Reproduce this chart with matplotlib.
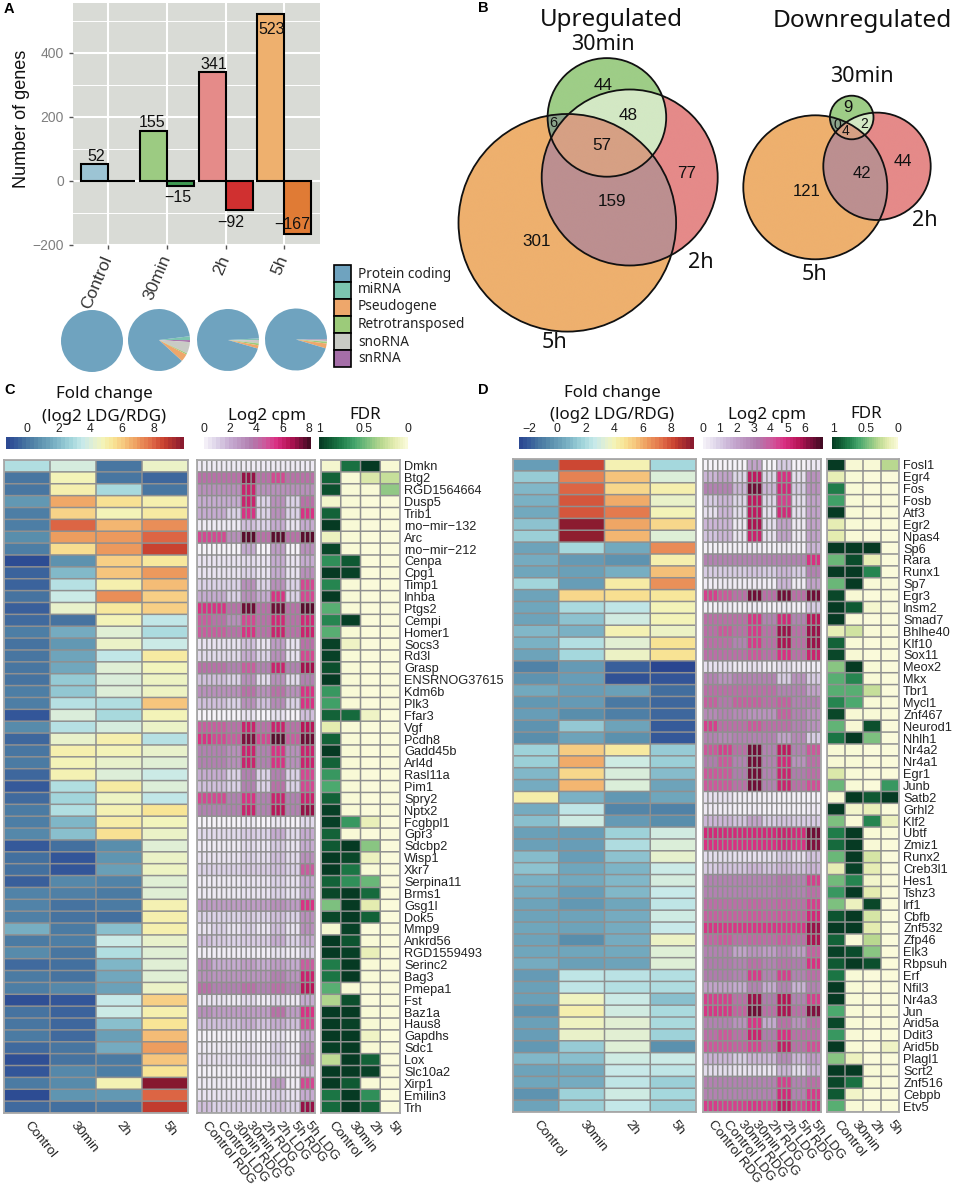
import numpy as np
import matplotlib
matplotlib.use('Agg')
import matplotlib.pyplot as plt
from matplotlib.colors import LinearSegmentedColormap, Normalize
from matplotlib.patches import Circle, Rectangle
from matplotlib.transforms import ScaledTranslation

W, H = 954, 1190
SANS = 'Liberation Sans'
TITLE = 'Noto Sans'
plt.rcParams['font.family'] = [SANS, 'DejaVu Sans']

# Panel A
times = ['Control', '30min', '2h', '5h']
genes_up = [52, 155, 341, 523]
genes_down = [0, -15, -92, -167]
up_colors = ['#9cc4d4', '#9ccb82', '#e58b89', '#eeb06e']
down_colors = ['#9cc4d4', '#3f9b52', '#d03030', '#e07b35']

biotypes = ['Protein coding', 'miRNA', 'Pseudogene', 'Retrotransposed', 'snoRNA', 'snRNA']
biotype_colors = ['#6fa3bf', '#7cc5b0', '#eea76b', '#9ccb7a', '#c9cbc5', '#a56ea8']
pie_protein = [100, 86, 94.7, 95.1]
pie_mirna = [0, 2, 0.8, 0.3]
pie_pseudo = [0, 4, 1.7, 2.5]
pie_retro = [0, 0.7, 1, 1]
pie_sno = [0, 6, 1.5, 0.5]
pie_sn = [0, 1, 0.3, 0.6]

# Panel B
venn_up = {'30': 44, '30+2': 48, '30+5': 6, 'all': 57, '2': 77, '2+5': 159, '5': 301}
venn_down = {'30': 9, '30+2': 2, '30+5': 0, 'all': 4, '2': 44, '2+5': 42, '5': 121}

# Panel C
genes_c = ['Dmkn', 'Btg2', 'RGD1564664', 'Dusp5', 'Trib1', 'rno\u2212mir\u2212132', 'Arc', 'rno\u2212mir\u2212212',
           'Cenpa', 'Cpg1', 'Timp1', 'Inhba', 'Ptgs2', 'Cempi', 'Homer1', 'Socs3', 'Rd3l', 'Grasp',
           'ENSRNOG37615', 'Kdm6b', 'Plk3', 'Ffar3', 'Vgf', 'Pcdh8', 'Gadd45b', 'Arl4d', 'Rasl11a', 'Pim1',
           'Spry2', 'Nptx2', 'Fcgbpl1', 'Gpr3', 'Sdcbp2', 'Wisp1', 'Xkr7', 'Serpina11', 'Brms1', 'Gsg1l',
           'Dok5', 'Mmp9', 'Ankrd56', 'RGD1559493', 'Serinc2', 'Bag3', 'Pmepa1', 'Fst', 'Baz1a', 'Haus8',
           'Gapdhs', 'Sdc1', 'Lox', 'Slc10a2', 'Xirp1', 'Emilin3', 'Trh']
fc_c = [[3.1, 3.9, 0.0, 4.5], [0.0, 4.8, 0.0, -0.4], [0.0, 5.0, 2.9, 0.0], [1.0, 6.7, 5.5, 5.0],
        [0.2, 5.8, 4.8, 5.2], [0.2, 8.0, 6.4, 7.2], [0.7, 6.9, 7.0, 8.0], [0.2, 5.6, 7.0, 8.6],
        [-1.1, 0.8, 5.9, 5.3], [-0.5, 2.0, 6.1, 7.0], [-0.5, 3.2, 5.0, 6.3], [-0.1, 3.6, 7.2, 5.9],
        [-0.6, 4.4, 5.3, 5.9], [-0.3, -0.1, 4.8, 3.4], [0.2, 1.6, 4.2, 3.0], [-0.1, 1.0, 4.5, 3.6],
        [0.0, 1.4, 3.4, 5.2], [0.0, 1.5, 4.2, 4.7], [-0.1, 2.5, 4.0, 4.6], [0.2, 2.4, 4.1, 4.6],
        [0.2, 3.2, 3.1, 6.1], [-0.8, 4.0, 2.9, 4.8], [0.6, 3.2, 3.9, 4.5], [-0.4, 4.4, 5.0, 3.2],
        [0.0, 5.0, 4.8, 4.4], [0.1, 4.8, 4.4, 4.2], [-0.4, 4.9, 4.1, 3.6], [-0.7, 3.1, 5.2, 4.1],
        [-0.3, 2.8, 4.6, 3.4], [0.1, 3.1, 4.9, 5.4], [0.2, 1.9, 5.1, 4.7], [0.5, 2.2, 5.5, 4.5],
        [-0.7, -0.2, 0.7, 4.2], [-0.2, -0.8, 0.9, 4.5], [-0.2, -0.8, 1.2, 4.6], [-0.6, 0.5, 0.4, 4.2],
        [0.4, 0.3, 0.1, 4.2], [0.4, -0.1, 0.1, 4.9], [0.3, -0.1, -0.2, 5.0], [1.7, 0.1, 2.2, 5.0],
        [0.1, 0.2, 3.6, 4.4], [0.6, 0.0, 3.1, 4.2], [-0.3, -0.2, 1.9, 4.2], [0.1, -0.1, 1.5, 4.2],
        [0.2, 0.5, 1.3, 4.5], [-1.0, -0.8, 3.5, 5.9], [-0.1, -0.5, 3.6, 5.0], [0.0, -0.4, 2.2, 5.4],
        [0.1, -0.3, 1.2, 6.3], [-0.3, 0.0, 1.6, 6.9], [-1.0, -0.1, 0.1, 6.1], [-0.8, 0.5, 0.2, 5.4],
        [0.1, 0.6, 4.9, 9.9], [-1.1, 0.9, 1.0, 8.0], [-0.3, -0.2, 0.0, 8.8]]
# one value per condition, each condition has three replicate cells
cpm_c = [[.3, .3, .3, .3, .3, .3, .3, .3], [4, 4, 4, 7, 4, 5, 4, 4], [3, 3, 3, 6, 3, 3, 3, 3], [2, 2, 2, 6, 1, 3, 1, 4],
         [2, 2, 1, 5.5, 1, 3, 1, 5.5], [.3, .3, .3, 1.5, 1, 2, .5, 2], [5, 5, 3, 7.8, 4, 7.8, 4, 7.8], [0, 0, 0, 2, 0, 2.5, 0, 3],
         [.5, .5, .5, .8, .5, 2, .5, 2], [.5, .5, .5, 1, .5, 2, .5, 3], [1, 1, 1, 3, 1, 3, 1, 5], [2, 2, 1, 3, 2, 5.5, 1, 5],
         [5.5, 5.5, 4, 7.5, 4, 7.5, 4, 7.8], [4.5, 4, 3, 5, 4, 5.8, 4, 5.8], [4.5, 4.5, 4, 5.5, 4, 6, 4, 6], [.5, .5, .5, 1.5, .5, 2.5, .5, 4],
         [.8, .8, .8, 2, 1, 3, .5, 5], [4, 4, 3.5, 4.5, 3.5, 6, 3.5, 6.8], [1.5, 1.5, 1, 3, .8, 3, .8, 3.5], [3, 3, 3, 4, 3, 4, 3, 5.5],
         [1.5, 1.5, 1, 3, 1.5, 3.2, 1, 5.5], [0, 0, 0, .5, 0, .5, 0, 1.5], [4.5, 4.5, 4, 6, 4, 6, 4, 6.5], [5.5, 5, 4.5, 7.3, 5, 7.8, 4.5, 7.5],
         [3.5, 3.5, 3, 6, 3.5, 5.5, 3, 6], [3.5, 3.5, 3, 6, 3.5, 5.5, 3, 6], [2, 2, 1, 3.5, 1, 3.5, 1, 5], [1.5, 1.5, 1, 3.5, 1, 4, 1, 5],
         [5, 5, 3.5, 5.5, 3.5, 6, 3.5, 6], [3.5, 3.5, 3.5, 6, 3.5, 6.5, 3.5, 7], [0, 0, 0, .3, 0, .3, 0, .8], [.8, .8, .8, 1.2, 1, 2, .8, 2],
         [.3, .3, .3, .8, .5, 1.2, .5, 2], [.5, .5, .5, 1, .8, 1.5, .8, 3], [1, 1, 1, 1.2, 1.2, 1.5, 1, 4.5], [.3, .3, .3, .5, .5, 1, .5, 2],
         [.3, .3, .3, .5, .5, 1, .5, 2], [2.5, 2.5, 2.5, 2.5, 2.5, 3, 2.5, 5.5], [1, 1, 1, 1.2, 1, 1.5, 1, 3], [.5, 1, .5, 1, .5, 1.5, .5, 3],
         [1.5, 1.2, 1, 1.2, 1.2, 2, 1, 2], [.2, .2, .2, .3, .2, .5, .2, 1], [3, 2, 2, 2.5, 2, 2.5, 2, 4.5], [3, 2.8, 2.8, 2.8, 2.8, 3.5, 2.8, 6],
         [4, 3.5, 3.5, 4, 3.5, 4, 3.5, 6.5], [.5, .5, .3, .8, .3, .8, .3, 2], [3, 2.5, 2.5, 2.5, 2.5, 4, 2.5, 5.5], [1.5, 1.5, 1.5, 2, 1.5, 2, 1.5, 5],
         [.1, .1, .1, .3, .1, .5, .1, 2], [.3, .3, .3, .5, .3, 1, .3, 3], [.6, .6, .5, .8, .5, 1, .5, 3.5], [.1, .1, .1, .2, .1, .3, .1, 1.5],
         [.3, .3, .2, .5, .2, 2.5, .2, 5], [.5, .5, .5, .8, .5, 1, .5, 2], [1.5, 1, 1, 1, 1, 1.5, 1, 7]]
fdr_c = [[.05, .8, 1, .03], [.85, .02, .18, .25], [.92, .02, .02, .4], [.06, .02, .01, .01], [.85, .02, .01, .01],
         [1, .02, .01, .01], [.1, .02, .01, .01], [.95, .02, .01, .01], [.68, .88, .01, .01], [1, .97, .01, .01],
         [.72, .02, .01, .01], [1, .02, .01, .01], [.55, .02, .01, .01], [.72, .98, .01, .01], [.55, .03, .01, .01],
         [.97, .08, .01, .01], [.97, .02, .01, .01], [.92, .02, .01, .01], [1, .02, .01, .01], [.65, .02, .01, .01],
         [.62, .02, .01, .01], [.85, .82, .08, .01], [.15, .02, .01, .01], [.85, .02, .01, .01], [1, .02, .01, .01],
         [.85, .02, .01, .01], [.65, .02, .01, .01], [.58, .02, .01, .01], [.85, .02, .01, .01], [.98, .02, .01, .01],
         [.98, .65, .12, .01], [.85, .02, .01, .01], [.88, 1, .42, .01], [1, .95, .1, .01], [1, .78, .02, .01],
         [.85, .68, .5, .01], [.95, 1, .82, .01], [.45, 1, .15, .01], [.95, 1, .85, .01], [.04, .97, .01, .01],
         [1, .9, .02, .01], [1, .98, .12, .01], [.75, 1, .02, .01], [.78, 1, .02, .01], [.55, .03, .01, .01],
         [.32, .92, .01, .01], [1, 1, .02, .01], [1, .97, .03, .01], [1, 1, .08, .01], [.98, 1, .03, .01],
         [.28, 1, .85, .01], [1, 1, .97, .01], [1, .88, .02, .01], [.78, 1, .68, .01], [.82, 1, .85, .01]]

# Panel D
genes_d = ['Fosl1', 'Egr4', 'Fos', 'Fosb', 'Atf3', 'Egr2', 'Npas4', 'Sp6', 'Rara', 'Runx1', 'Sp7', 'Egr3', 'Insm2',
           'Smad7', 'Bhlhe40', 'Klf10', 'Sox11', 'Meox2', 'Mkx', 'Tbr1', 'Mycl1', 'Znf467', 'Neurod1', 'Nhlh1',
           'Nr4a2', 'Nr4a1', 'Egr1', 'Junb', 'Satb2', 'Grhl2', 'Klf2', 'Ubtf', 'Zmiz1', 'Runx2', 'Creb3l1', 'Hes1',
           'Tshz3', 'Irf1', 'Cbfb', 'Znf532', 'Zfp46', 'Elk3', 'Rbpsuh', 'Erf', 'Nfil3', 'Nr4a3', 'Jun', 'Arid5a',
           'Ddit3', 'Arid5b', 'Plagl1', 'Scrt2', 'Znf516', 'Cebpb', 'Etv5']
fc_d = [[0.0, 8.1, 4.1, 1.9], [1.5, 6.9, 5.5, 3.2], [0.9, 7.5, 5.0, 4.2], [0.7, 7.8, 6.0, 3.6], [0.4, 7.8, 7.1, 4.0],
        [1.2, 9.5, 6.1, 5.0], [1.6, 9.4, 5.8, 3.3], [0.2, 1.9, 0.4, 6.7], [0.5, -0.1, -0.3, 4.2], [0.3, 0.1, 0.6, 5.6],
        [1.8, 0.0, 4.4, 6.6], [0.2, 5.0, 4.8, 4.6], [0.3, 2.0, 2.4, 4.0], [0.2, 1.2, 2.9, 4.0], [0.9, 0.7, 4.1, 3.7],
        [0.7, 2.2, 3.4, 4.7], [0.2, 1.9, 3.7, 4.7], [-0.9, -0.1, -1.9, -2.7], [-0.3, 0.0, -2.3, -2.2], [0.4, 0.0, 0.1, -1.5],
        [-0.2, -0.1, -1.2, -1.7], [0.0, -0.5, -1.0, -1.7], [-0.3, 1.4, 0.2, -2.0], [-0.5, 0.2, -0.4, -2.1], [1.7, 5.3, 4.5, 1.5],
        [1.6, 6.0, 2.8, 1.6], [0.9, 5.0, 3.1, 1.0], [0.5, 5.8, 3.2, 0.2], [4.3, 0.7, -0.2, 0.3], [0.5, 2.4, -0.8, -0.9],
        [1.1, 2.8, -0.1, -0.5], [0.1, 0.0, 1.7, 2.9], [0.1, 0.0, 2.1, 3.2], [1.0, 0.0, 1.2, 3.5], [1.2, 0.3, 0.8, 2.7],
        [0.7, 0.4, 0.9, 3.0], [0.5, 0.0, 0.9, 2.6], [0.2, -0.2, 0.3, 2.4], [0.2, 0.2, 0.5, 2.8], [0.3, 0.2, 0.5, 2.6],
        [0.2, -0.5, 0.5, 3.7], [0.3, 0.3, 0.4, 3.3], [0.5, 0.1, 0.2, 3.3], [-0.1, 2.4, 2.3, 2.2], [0.1, 2.4, 2.2, 2.1],
        [0.1, 3.8, 2.7, 1.1], [-0.3, 4.2, 2.9, 2.0], [0.1, 3.8, 3.4, 2.0], [0.0, 3.6, 3.4, 1.7], [-0.2, 1.5, 3.3, -0.4],
        [0.9, 1.1, 2.8, 2.7], [0.2, 0.4, 2.6, 2.4], [0.3, 0.5, 2.4, 1.6], [-0.3, 1.7, 2.8, 1.9], [0.2, 1.6, 2.5, 1.6]]
cpm_d = [[0, 0, 0, 2, 0, 1, 0, .3], [1.5, 2, .8, 5.5, .8, 4.8, .5, 2.5], [3, 3, 1.5, 6.5, 1.5, 5, 1, 2.5], [1, 1.5, .8, 5.5, .8, 4.5, .6, 2],
         [.5, 1.5, .6, 5.5, .5, 5, .5, 2], [1.5, 1.5, .3, 5.8, .6, 2, .3, 2], [1.2, 1.5, .4, 5.2, .5, 2, .3, 2], [.1, .1, .1, .2, .1, .2, .1, 1.5],
         [3, 3, 3, 3, 3, 3, 3, 4.8], [1, 1, 1, 1.2, 1, 1.5, 1, 3], [.2, .3, .2, .3, .2, 1.5, .2, 2], [4.5, 4, 3.5, 6.5, 3.5, 6.5, 3.5, 6.5],
         [.1, .2, .1, .2, .1, .2, .1, 1], [3.5, 3.5, 3.5, 4.7, 3, 5, 3, 5.6], [3.5, 4, 3.5, 4.6, 3.5, 6, 3.5, 6], [3.5, 3.5, 3, 4.6, 3.5, 5.8, 3.5, 6],
         [3.5, 3.5, 3.5, 4, 3.5, 4.8, 3.5, 5.2], [.5, .5, .3, .5, .3, .5, .3, .2], [3, 2.5, 3, 3, 3, 1, 2.5, 1], [3.5, 3.5, 3.5, 3.5, 3.5, 3, 3, 2],
         [3.8, 3.3, 3.8, 3.8, 3.5, 3.8, 3, 3], [2.8, 3, 2.8, 2.5, 2.5, 3.8, 3, 2.5], [4.5, 3.5, 3.5, 4, 3.5, 3.5, 3, 2.5], [3, 2.8, 3, 3, 3, 2, 2.8, 1],
         [4, 4.5, 3.5, 6.5, 3, 5.5, 3, 4], [3.2, 4, 3, 6.5, 3, 5, 2.5, 3.5], [4, 4, 3.2, 6.5, 3, 5.2, 3.2, 3.5], [4, 4, 3.5, 6.5, 3, 5.2, 3.5, 4.2],
         [.5, .5, .2, .2, .2, .1, .1, .1], [.3, .2, .1, .2, .1, .1, .1, .3], [1.5, 1.5, 1.2, 2, 1, 1.2, 1, 1], [5, 5, 5, 5, 5, 5.2, 5, 6.5],
         [4.8, 4.8, 4.8, 4.8, 4.8, 5, 4.8, 6.3], [.6, .6, .5, .5, .6, 1, .5, 1.2], [1, 1.2, 1.2, 1.5, 1.2, 1.5, 1.2, 1.5], [3, 3, 3, 3, 3, 3.3, 3, 4.5],
         [3, 3, 3, 3, 3, 3.2, 3, 3.5], [3.5, 3.5, 3.5, 3.7, 3.5, 3.7, 3.5, 4.5], [3.8, 3.8, 3.8, 4, 3.8, 4, 3.8, 5], [4.7, 4.7, 4.7, 4.7, 4.7, 4.7, 4.7, 6],
         [3.7, 4, 3.5, 3.7, 3.6, 3.9, 3.5, 5.8], [3, 3, 2, 2.5, 2.2, 2.8, 2.2, 3.8], [3.2, 3.2, 3, 3.5, 3, 3.4, 3.2, 4.8], [3.2, 3.2, 3, 4.6, 3, 4.5, 3, 3.5],
         [2, 2, 1.8, 3, 1.8, 3, 1.6, 3], [4.5, 4.5, 3.5, 6, 3.2, 5.7, 3, 4.5], [4.7, 4.7, 3.8, 6.5, 3.5, 5.8, 3.5, 6.3], [3, 3, 2.5, 4.7, 1.8, 3.5, 2.5, 3.5],
         [3.5, 4, 3.5, 5.2, 3.2, 4.8, 3.5, 3.5], [4, 4, 3.8, 4.4, 3.5, 5.4, 3.5, 4.2], [1.6, 1.5, 1, 1.5, 1.5, 2.8, 1.5, 2.2], [.6, .6, .4, .5, .4, 1.5, .6, 1.5],
         [3, 3, 3, 3, 3, 4.5, 3, 3.5], [3, 3, 3, 3, 3, 5, 3, 4.6], [4.6, 4.5, 4.5, 4.7, 4.5, 5.5, 4.5, 4.8]]
fdr_d = [[1, .03, .02, .3], [.13, .02, .01, .01], [.75, .02, .01, .01], [.62, .02, .01, .01], [1, .02, .01, .01],
         [.14, .02, .01, .01], [.15, .02, .01, .01], [1, 1, 1, .01], [.5, .93, .13, .01], [1, 1, .72, .01],
         [.5, 1, .02, .01], [.95, .03, .01, .01], [1, .88, .05, .01], [1, .02, .01, .01], [.13, .22, .02, .01],
         [.85, .02, .01, .01], [.95, .03, .01, .01], [.42, 1, .02, .01], [.55, .72, .02, .01], [.55, .55, .25, .01],
         [.72, .58, .02, .01], [.95, .03, .02, .01], [.52, .03, .92, .01], [.78, 1, .45, .01], [.03, .02, .01, .01],
         [.03, .02, .01, .01], [.18, .02, .01, .01], [.5, .02, .01, .65], [.03, 1, .88, 1], [1, .06, .12, .01],
         [.45, .02, .72, .1], [.75, 1, .02, .01], [.82, 1, .02, .01], [.5, 1, .2, .01], [.14, .97, .14, .01],
         [.48, .72, .06, .01], [.65, 1, .15, .01], [.45, .1, .95, .01], [.9, 1, .2, .01], [1, 1, .15, .01],
         [.85, .02, .3, .01], [.97, .93, .42, .01], [.88, 1, .92, .01], [.78, .02, .01, .01], [1, .02, .01, .01],
         [1, .02, .01, .01], [.58, .02, .01, .01], [.95, .02, .01, .01], [.65, .02, .01, .01], [1, .02, .01, .08],
         [.42, .1, .01, .01], [1, 1, .02, .01], [.95, .8, .02, .01], [.88, .07, .01, .01], [.55, .02, .01, .01]]

conditions = ['Control RDG', 'Control LDG', '30min RDG', '30min LDG', '2h RDG', '2h LDG', '5h RDG', '5h LDG']

fc_cmap = LinearSegmentedColormap.from_list('fc', [
    (0, '#2a4690'), (.05, '#35599a'), (.1, '#44719f'), (.18, '#5a8fad'), (.28, '#7cb3c5'),
    (.37, '#a4d7dc'), (.43, '#c7e9e9'), (.49, '#e0efd5'), (.54, '#f3f4bb'), (.6, '#f8e596'),
    (.66, '#f6c77e'), (.73, '#ee9f60'), (.82, '#e06c48'), (.89, '#c8402f'), (1, '#86182f')])
cpm_cmap = LinearSegmentedColormap.from_list('cpm', [
    (0, '#f6f3f9'), (.12, '#dcd3e8'), (.25, '#c5a9d0'), (.45, '#b07bad'), (.58, '#d0559a'),
    (.68, '#d92f82'), (.8, '#b71456'), (.9, '#7a0e3b'), (1, '#3d0a20')])
fdr_cmap = LinearSegmentedColormap.from_list('fdr', [
    (0, '#fbfbdc'), (.15, '#e4ecb0'), (.3, '#b8d890'), (.45, '#7dc07f'), (.6, '#45a56c'),
    (.75, '#1f7d49'), (.88, '#0f5a33'), (1, '#063a23')])

GRID = '#909090'
FRAME = '#a8a8a8'

fig = plt.figure(figsize=(W / 100, H / 100), dpi=100)


def px_axes(x0, y0, x1, y1, **kw):
    return fig.add_axes([x0 / W, 1 - y1 / H, (x1 - x0) / W, (y1 - y0) / H], **kw)


# everything placed by pixel goes on this full page axes
page = px_axes(0, 0, W, H)
page.set_xlim(0, W)
page.set_ylim(H, 0)
page.axis('off')


def put(x, y, s, size, family=SANS, **kw):
    kw.setdefault('ha', 'center')
    kw.setdefault('va', 'center')
    page.text(x, y, s, fontsize=size, family=family, **kw)


for letter, x, y in [('A', 9, 9), ('B', 483, 8), ('C', 10, 390), ('D', 483, 390)]:
    put(x, y, letter, 10.5, weight='bold')

# A: bars
ax = px_axes(73, 3, 320, 245)
ax.set_facecolor('#d9dbd6')
ax.set_xlim(-0.6, 3.61)
ax.set_ylim(-200, 556)
x = np.arange(len(times))
ax.bar(x - .23, genes_up, .46, color=up_colors, edgecolor='black', linewidth=1.5, zorder=3)
ax.bar(x + .23, genes_down, .46, color=down_colors, edgecolor='black', linewidth=1.5, zorder=3)
label_shift = [(1, 0), (-1, 1), (1, 0), (1, -17)]
for i, v in enumerate(genes_up):
    ax.annotate(str(v), (i - .23, v), xytext=label_shift[i], textcoords='offset points',
                ha='center', va='bottom', fontsize=11.5, color='#111111', zorder=4)
down_shift = [(0, 0), (-2, -8.6), (-6, -8.6), (-4, 7)]
for i, v in enumerate(genes_down):
    if v != 0:
        ax.annotate(str(v).replace('-', '\u2212'), (i + .23, v), xytext=down_shift[i], textcoords='offset points',
                    ha='center', va='center', fontsize=11.5, color='#111111', zorder=4)
ax.set_yticks([-200, 0, 200, 400])
ax.set_yticklabels(['\u2212200', '0', '200', '400'], fontsize=10, color='#7f7f7f')
ax.set_yticks([-100, 100, 300, 500], minor=True)
ax.set_xticks(x)
ax.set_xticklabels(times, rotation=67, ha='right', va='center', rotation_mode='anchor',
                   fontsize=12.5, color='#333333')
ax.grid(True, which='major', color='white', linewidth=1.5, zorder=0)
ax.grid(True, which='minor', axis='y', color='white', linewidth=.7, zorder=0)
ax.tick_params(axis='both', which='major', length=3, color='#555555', width=1)
ax.tick_params(axis='y', which='minor', length=0)
ax.tick_params(axis='x', pad=5)
ax.set_axisbelow(True)
for s in ax.spines.values():
    s.set_visible(False)
ax.set_ylabel('Number of genes', fontsize=13, color='#111111')
ax.yaxis.set_label_coords(-0.174, 0.52)

# A: pies
pie_centres = [(92, 341), (159, 340), (228, 340), (296, 339.5)]
pie_starts = [0, 7, 3, 1]
pie_order = [pie_mirna, pie_sn, pie_sno, pie_retro, pie_pseudo, pie_protein]
pie_colors = [biotype_colors[k] for k in (1, 5, 4, 3, 2, 0)]
for k, (cx, cy) in enumerate(pie_centres):
    pie_ax = px_axes(cx - 31, cy - 31, cx + 31, cy + 31)
    pie_ax.pie([s[k] for s in pie_order], colors=pie_colors, startangle=pie_starts[k],
               counterclock=False, radius=1.0)
    pie_ax.set_xlim(-1, 1)
    pie_ax.set_ylim(-1, 1)

# A: legend
key_y = [265, 282, 299, 316, 333, 350]
text_y = [274, 289.5, 307, 325, 343, 359]
for k, name in enumerate(biotypes):
    page.add_patch(Rectangle((334.5, key_y[k]), 17, 17, facecolor=biotype_colors[k], edgecolor='black', linewidth=1.2))
    put(358, text_y[k], name, 9.8, family=TITLE, ha='left', color='#222222')


# B: Venn
def draw_venn(circles, colors, bbox):
    x0, y0, x1, y1 = bbox
    xx, yy = np.meshgrid(np.arange(x0, x1, .33), np.arange(y0, y1, .33))
    a, b, c = [(xx - cx) ** 2 + (yy - cy) ** 2 <= r ** 2 for cx, cy, r in circles]
    rgba = np.zeros(xx.shape + (4,))
    regions = [('30', a & ~b & ~c), ('2', b & ~a & ~c), ('5', c & ~a & ~b), ('30+2', a & b & ~c),
               ('30+5', a & c & ~b), ('2+5', b & c & ~a), ('all', a & b & c)]
    for key, mask in regions:
        rgba[mask] = matplotlib.colors.to_rgba(colors[key])
    page.imshow(rgba, extent=(x0, x1, y1, y0), zorder=1, aspect='auto')
    for cx, cy, r in circles:
        page.add_patch(Circle((cx, cy), r, fill=False, edgecolor='#111111', linewidth=1.3, zorder=2))


venn_colors = {'30': '#9ecd87', '2': '#e58a89', '5': '#eeb06e', '30+2': '#d3e8c4',
               '30+5': '#8ba48a', '2+5': '#bc8f90', 'all': '#d6a084'}
draw_venn([(606.9, 117.4, 59.3), (629.7, 177.5, 88), (567.3, 222.8, 108.8)], venn_colors, (450, 50, 725, 340))
draw_venn([(851.7, 117.5, 21.8), (877, 166.3, 53.7), (815.3, 187.3, 72)], venn_colors, (735, 90, 940, 265))
page.set_xlim(0, W)
page.set_ylim(H, 0)

put(611, 20, 'Upregulated', 17.4, family=TITLE, color='#111111')
put(862, 21, 'Downregulated', 17.6, family=TITLE, color='#111111')
for tx, ty, s in [(603, 44, '30min'), (701, 262, '2h'), (555, 343, '5h'), (862, 77, '30min'), (925, 221, '2h'), (815, 274, '5h')]:
    put(tx, ty, s, 15.5, family=TITLE, color='#111111', zorder=3)
up_pos = {'30': (603, 85), '30+2': (628, 115), '30+5': (553, 123), 'all': (602, 146), '2': (687, 173), '2+5': (612, 202), '5': (537, 242)}
down_pos = {'30': (848, 107), '30+2': (864, 124), '30+5': (837, 125), 'all': (846, 131), '2': (903, 162), '2+5': (862, 173), '5': (807, 191)}
for key, (tx, ty) in up_pos.items():
    put(tx, ty, str(venn_up[key]), 10.5 if key == '30+5' else 12.3, color='#111111', zorder=3)
for key, (tx, ty) in down_pos.items():
    put(tx, ty, str(venn_down[key]), 10 if key in ('30+2', '30+5', 'all') else 12, color='#111111', zorder=3)


# C and D: heatmaps
def heat(box, values, cmap, norm, labels, row_labels=None):
    ax = px_axes(*box)
    values = np.asarray(values, dtype=float)
    rows, cols = values.shape
    ax.pcolormesh(values, cmap=cmap, norm=norm, antialiased=False)
    # lines stay unsnapped so that every cell keeps the same width
    h = ax.hlines(np.arange(rows + 1), 0, cols, colors=GRID, linewidth=1.1)
    v = ax.vlines(np.arange(cols + 1), 0, rows, colors=GRID, linewidth=1.1)
    h.set_snap(False)
    v.set_snap(False)
    ax.set_ylim(rows, 0)
    ax.set_xlim(0, cols)
    for s in ax.spines.values():
        s.set_edgecolor(FRAME)
        s.set_linewidth(1.3)
    step = cols / len(labels)
    ax.set_xticks((np.arange(len(labels)) + .5) * step)
    ax.set_xticklabels(labels, rotation=-51, ha='left', va='center', rotation_mode='anchor',
                       fontsize=9.6, color='#222222')
    shift = ScaledTranslation(-7 / 72, 0, fig.dpi_scale_trans)
    for lab in ax.get_xticklabels():
        lab.set_transform(lab.get_transform() + shift)
    ax.tick_params(axis='x', length=0, pad=7)
    if row_labels:
        ax.yaxis.tick_right()
        ax.set_yticks(np.arange(rows) + .5)
        ax.set_yticklabels(row_labels, fontsize=9.2, color='#222222')
        ax.tick_params(axis='y', length=0, pad=3)
    else:
        ax.set_yticks([])
    return ax


def color_bar(box, cmap, vmin, vmax, steps, ticks, ticklabels):
    ax = px_axes(*box)
    edges = np.linspace(vmin, vmax, steps + 1)
    ax.pcolormesh(edges, [0, 1], ((edges[:-1] + edges[1:]) / 2)[None, :], cmap=cmap,
                  norm=Normalize(min(vmin, vmax), max(vmin, vmax)))
    ax.set_xlim(vmin, vmax)
    ax.set_yticks([])
    ax.xaxis.tick_top()
    ax.set_xticks(ticks)
    ax.set_xticklabels(ticklabels, fontsize=8.8, color='#222222')
    ax.tick_params(axis='x', length=0, pad=1.5)
    for s in ax.spines.values():
        s.set_visible(False)


def panel(ybox, fc, cpm, fdr, genes, fc_box, cpm_box, fdr_box, fc_range, cpm_max):
    top, bottom = ybox
    fc_norm = Normalize(*fc_range)
    cpm_norm = Normalize(0, cpm_max)
    heat((fc_box[0], top, fc_box[1], bottom), fc, fc_cmap, fc_norm, times)
    heat((cpm_box[0], top, cpm_box[1], bottom), np.repeat(np.array(cpm), 3, axis=1), cpm_cmap, cpm_norm, conditions)
    heat((fdr_box[0], top, fdr_box[1], bottom), fdr, fdr_cmap, Normalize(0, 1), times, row_labels=genes)


panel((460, 1113), fc_c, cpm_c, fdr_c, genes_c, (4, 188), (197, 315), (321, 400), (-1.3, 9.9), 8.2)
panel((459, 1112), fc_d, cpm_d, fdr_d, genes_d, (513, 696), (703, 821), (827, 899), (-2.7, 9.6), 7.1)

color_bar((6, 437, 184, 449), fc_cmap, -1.3, 9.9, 45, [0, 2, 4, 6, 8], ['0', '2', '4', '6', '8'])
color_bar((204, 437, 311, 449), cpm_cmap, 0, 8.2, 26, [0, 2, 4, 6, 8], ['0', '2', '4', '6', '8'])
color_bar((319, 437, 408, 449), fdr_cmap, 1.01, 0, 35, [1, .5, 0], ['1', '0.5', '0'])
color_bar((519, 437, 694, 449), fc_cmap, -2.7, 9.6, 45, [-2, 0, 2, 4, 6, 8], ['\u22122', '0', '2', '4', '6', '8'])
color_bar((703, 437, 823, 449), cpm_cmap, 0, 7.1, 36, [0, 1, 2, 3, 4, 5, 6], ['0', '1', '2', '3', '4', '5', '6'])
color_bar((832, 437, 898, 449), fdr_cmap, 1.02, 0, 30, [1, .5, 0], ['1', '0.5', '0'])

for tx, ty, s in [(104, 394, 'Fold change'), (104, 417, '(log2 LDG/RDG)'), (267, 416, 'Log2 cpm'), (365, 415, 'FDR'),
                  (612, 393, 'Fold change'), (612, 415, '(log2 LDG/RDG)'), (767, 415, 'Log2 cpm'), (866, 414, 'FDR')]:
    put(tx, ty, s, 12.2, family=TITLE, color='#111111')

fig.savefig('out.png', dpi=100)
